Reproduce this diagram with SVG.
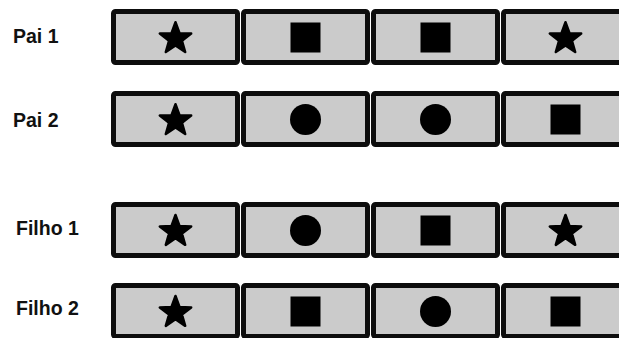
<svg xmlns="http://www.w3.org/2000/svg" xmlns:xlink="http://www.w3.org/1999/xlink" width="619" height="338" viewBox="0 0 619 338">
  <style>
    .cell { fill: #cbcbcb; stroke: #0d0d0d; stroke-width: 5; }
    .lbl { font-family: "Liberation Sans", Arial, sans-serif; font-weight: bold; font-size: 19.5px; fill: #111; }
  </style>
  <defs>
    <polygon id="star" points="0,-16.5 4.00,-5.50 15.69,-5.10 6.47,2.10 9.70,13.35 0,6.8 -9.70,13.35 -6.47,2.10 -15.69,-5.10 -4.00,-5.50" fill="#000" stroke="#000" stroke-width="2.5" stroke-linejoin="round"/>
    <rect id="square" x="-15" y="-15" width="30" height="30" fill="#000"/>
    <circle id="circle" r="15.5" fill="#000"/>
  </defs>
  <rect width="619" height="338" fill="#fff"/>

  <!-- Row 1: Pai 1 -->
  <g id="pai1">
    <text class="lbl" x="13" y="43">Pai 1</text>
    <g id="pai1-gene1"><rect class="cell" x="113.5" y="11.5" width="124" height="51" rx="2"/><use xlink:href="#star" x="175.5" y="38.7"/></g>
    <g id="pai1-gene2"><rect class="cell" x="243.5" y="11.5" width="124" height="51" rx="2"/><use xlink:href="#square" x="305.5" y="37.5"/></g>
    <g id="pai1-gene3"><rect class="cell" x="373.5" y="11.5" width="124" height="51" rx="2"/><use xlink:href="#square" x="435.5" y="37.5"/></g>
    <g id="pai1-gene4"><rect class="cell" x="503.5" y="11.5" width="124" height="51" rx="2"/><use xlink:href="#star" x="565.5" y="38.7"/></g>
  </g>

  <!-- Row 2: Pai 2 -->
  <g id="pai2">
    <text class="lbl" x="13" y="127">Pai 2</text>
    <g id="pai2-gene1"><rect class="cell" x="113.5" y="93.5" width="124" height="51" rx="2"/><use xlink:href="#star" x="175.5" y="120.7"/></g>
    <g id="pai2-gene2"><rect class="cell" x="243.5" y="93.5" width="124" height="51" rx="2"/><use xlink:href="#circle" x="305.5" y="119.5"/></g>
    <g id="pai2-gene3"><rect class="cell" x="373.5" y="93.5" width="124" height="51" rx="2"/><use xlink:href="#circle" x="435.5" y="119.5"/></g>
    <g id="pai2-gene4"><rect class="cell" x="503.5" y="93.5" width="124" height="51" rx="2"/><use xlink:href="#square" x="565.5" y="119.5"/></g>
  </g>

  <!-- Row 3: Filho 1 -->
  <g id="filho1">
    <text class="lbl" x="16" y="234.5">Filho 1</text>
    <g id="filho1-gene1"><rect class="cell" x="113.5" y="204.5" width="124" height="51" rx="2"/><use xlink:href="#star" x="175.5" y="231.5"/></g>
    <g id="filho1-gene2"><rect class="cell" x="243.5" y="204.5" width="124" height="51" rx="2"/><use xlink:href="#circle" x="305.5" y="230.5"/></g>
    <g id="filho1-gene3"><rect class="cell" x="373.5" y="204.5" width="124" height="51" rx="2"/><use xlink:href="#square" x="435.5" y="230.5"/></g>
    <g id="filho1-gene4"><rect class="cell" x="503.5" y="204.5" width="124" height="51" rx="2"/><use xlink:href="#star" x="565.5" y="231.5"/></g>
  </g>

  <!-- Row 4: Filho 2 -->
  <g id="filho2">
    <text class="lbl" x="16" y="315">Filho 2</text>
    <g id="filho2-gene1"><rect class="cell" x="113.5" y="285.5" width="124" height="51" rx="2"/><use xlink:href="#star" x="175.5" y="312.5"/></g>
    <g id="filho2-gene2"><rect class="cell" x="243.5" y="285.5" width="124" height="51" rx="2"/><use xlink:href="#square" x="305.5" y="311.5"/></g>
    <g id="filho2-gene3"><rect class="cell" x="373.5" y="285.5" width="124" height="51" rx="2"/><use xlink:href="#circle" x="435.5" y="311.5"/></g>
    <g id="filho2-gene4"><rect class="cell" x="503.5" y="285.5" width="124" height="51" rx="2"/><use xlink:href="#square" x="565.5" y="311.5"/></g>
  </g>

  <g id="connectors"/>
</svg>
